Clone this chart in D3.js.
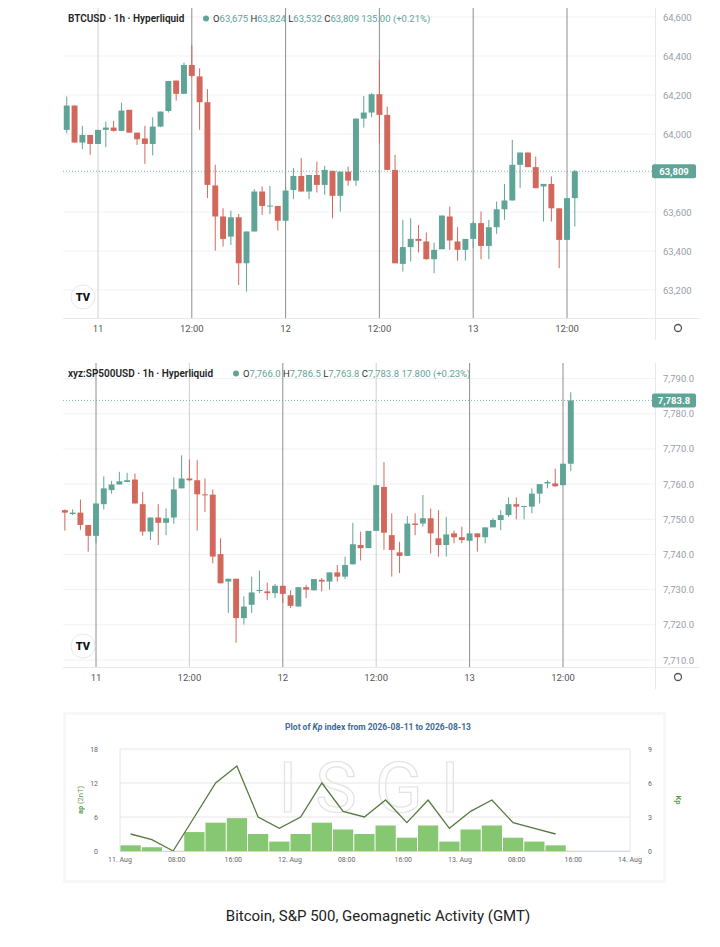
<!DOCTYPE html>
<html><head><meta charset="utf-8">
<script src="https://cdn.jsdelivr.net/npm/d3@7"></script>
<style>body{margin:0;background:#fff;font-family:Roboto,"Noto Sans",sans-serif}svg{display:block}</style>
</head><body><svg id="c" width="720" height="947"></svg>
<script>
// hourly candles [open, high, low, close], first candle = 20:00 on the 10th
var btcCandles = [
[64021,64192,64004,64146],[64146,64146,63956,63956],[63956,64042,63922,63995],[63995,63995,63893,63949],
[63949,64021,63949,64021],[64021,64064,63932,64033],[64033,64067,64012,64016],[64016,64161,64016,64120],
[64124,64124,64007,64007],[64007,64007,63944,63973],[63977,64042,63847,63949],[63949,64086,63890,64038],
[64038,64115,64035,64115],[64118,64272,64110,64272],[64274,64274,64171,64206],[64206,64366,64206,64354],
[64354,64456,64290,64298],[64295,64337,64021,64163],[64163,64230,63671,63739],[63736,63842,63402,63577],
[63577,63619,63423,63462],[63474,63607,63431,63573],[63573,63590,63226,63337],[63337,63500,63192,63500],
[63500,63717,63500,63705],[63705,63731,63585,63631],[63631,63734,63590,63633],[63631,63631,63505,63555],
[63555,63734,63555,63710],[63713,63825,63666,63785],[63785,63876,63705,63705],[63705,63790,63666,63790],
[63790,63859,63700,63739],[63739,63837,63688,63816],[63811,63811,63568,63683],[63683,63807,63602,63807],
[63807,63833,63734,63761],[63761,64079,63734,64079],[64079,64195,64033,64110],[64110,64209,64086,64204],
[64204,64380,63953,64098],[64098,64140,63816,63816],[63816,63893,63337,63337],[63334,63560,63295,63420],
[63420,63568,63346,63462],[63462,63534,63392,63452],[63449,63495,63355,63358],[63358,63443,63286,63406],
[63409,63582,63409,63582],[63577,63628,63406,63454],[63449,63522,63351,63406],[63406,63462,63351,63462],
[63462,63551,63414,63543],[63543,63602,63358,63426],[63426,63560,63358,63522],[63522,63654,63488,63614],
[63614,63744,63560,63659],[63659,63970,63659,63842],[63842,63905,63722,63905],[63905,63905,63830,63830],
[63830,63884,63722,63722],[63731,63744,63551,63744],[63744,63782,63551,63619],[63619,63619,63312,63457],
[63457,63671,63457,63671],[63671,63816,63526,63809]];
var spxCandles = [
[7752.6,7752.8,7746.8,7751.9],[7751.5,7752.8,7751.2,7751.9],[7751.9,7755.6,7747,7748.4],[7748.4,7748.4,7740.8,7745.3],
[7745.3,7754.5,7743.2,7754.5],[7754.3,7762.2,7752.8,7758.8],[7758.3,7760.9,7757.3,7759.9],[7759.9,7763.5,7759.9,7760.8],
[7760.6,7763.2,7760.6,7761.1],[7761.3,7763,7754.5,7754.5],[7754.3,7757.8,7745.3,7746.5],[7746.5,7750.5,7744.1,7750.5],
[7750.5,7754.3,7742.7,7749],[7749,7753.1,7745.5,7750.3],[7750.5,7761.9,7748.7,7758.5],[7758.8,7768.2,7758.8,7761.6],
[7761.6,7767,7760.8,7761.1],[7761.1,7766.8,7746.8,7757.1],[7757.1,7761.6,7752.1,7756.9],[7757,7758.5,7737.5,7739.4],
[7740.1,7744.6,7731.8,7731.8],[7732.3,7733.1,7723.4,7733.1],[7733.1,7733.1,7714.9,7721.9],[7721.9,7728.1,7720.1,7725.2],
[7725.7,7733.7,7723.4,7729.2],[7729.6,7735.4,7729,7729.9],[7729.5,7732,7727,7729],[7729,7731.6,7727.6,7731.1],
[7731.1,7731.1,7726.2,7728.8],[7728.4,7729.8,7724.8,7725.4],[7725.2,7730.7,7725.2,7730.7],[7730.7,7731.4,7727.6,7730],
[7729.8,7733,7729.8,7733],[7732.8,7733.3,7729.5,7732.3],[7732.3,7734.9,7730,7734.9],[7734.9,7737,7732.3,7733.7],
[7733.7,7739.4,7733,7737],[7737.2,7749,7737.2,7742.9],[7742.7,7746.5,7738.3,7741.8],[7741.8,7746.7,7741.8,7746.7],
[7746.7,7759.7,7746.7,7759.7],[7759.2,7766.3,7741.3,7746.2],[7745.5,7751.7,7733.7,7741.3],[7740.6,7743.6,7734.7,7739.6],
[7739.6,7750.9,7739.6,7748.8],[7748.8,7751.7,7745.5,7748.4],[7748.8,7756.9,7747.9,7750.3],[7750.3,7753.1,7740.3,7746],
[7744.6,7752.6,7739.4,7742.7],[7742.7,7750.7,7739.4,7745.7],[7746,7746.8,7743.2,7744.9],[7744.9,7747.9,7743.2,7744.1],
[7743.9,7746.5,7743.4,7746],[7746,7746,7740.8,7744.9],[7744.9,7747.7,7743.2,7747.7],[7747.7,7750.3,7747.7,7749.8],
[7749.8,7752.6,7746.9,7751.2],[7751.2,7756.2,7750.7,7754.3],[7754.3,7756.2,7750,7753.6],[7753.6,7753.8,7750,7753.8],
[7753.6,7758.8,7751.7,7757.3],[7757.3,7760,7754.5,7760],[7760.2,7761.1,7758.8,7760.6],[7760.2,7764.4,7759.2,7759.4],
[7759.7,7765.8,7759.7,7765.8],[7765.8,7786.1,7763.7,7783.8]];
var firstHour = -4;
var timeTicks = [0,12,24,36,48,60];
var timeLabels = ["11","12:00","12","12:00","13","12:00"];
var btcTicks = [63200,63400,63600,63800,64000,64200,64400,64600];
var spxTicks = [7710,7720,7730,7740,7750,7760,7770,7780,7790];
// Kp per 3-hour interval (11-13 Aug), ap line values
var kpValues = [0.5,0.33,0,1.67,2.5,2.9,1.5,0.83,1.5,2.5,1.9,1.5,2.25,1.17,2.25,0.83,1.9,2.25,1.17,0.83,0.5];
var apValues = [3,2,0,6,12,15,6,4,6,12,7,6,9,5,9,4,7,9,5,4,3];
var kpTickLabels = ["11. Aug","08:00","16:00","12. Aug","08:00","16:00","13. Aug","08:00","16:00","14. Aug"];

var svg = d3.select("#c");
var UP = "#5fa497", DOWN = "#d2685c";
var fmt0 = d3.format(",.0f"), fmt1 = d3.format(",.1f");

function panel(cfg){
  var g = svg.append("g");
  var x = d3.scaleLinear().domain([0,60]).range(cfg.xr);
  var y = d3.scaleLinear().domain(cfg.yd).range(cfg.yr);
  var top = cfg.top, bot = cfg.bot, L = 63, R = 655;
  var last = cfg.data[cfg.data.length-1][3];
  g.append("rect").attr("x",L).attr("y",top).attr("width",R-L).attr("height",bot-top).attr("fill","#fff");
  cfg.ticks.forEach(function(t){
    g.append("line").attr("x1",L).attr("x2",R).attr("y1",y(t)).attr("y2",y(t)).attr("stroke","#f0f1f4");
    if(Math.abs(y(t)-y(last))<11) return; // hidden behind the price tag
    g.append("text").attr("x",663).attr("y",y(t)+3.5).attr("font-size",9.5).attr("fill","#9a9ea8").text(cfg.fmt(t));
  });
  timeTicks.forEach(function(t,i){
    g.append("line").attr("x1",x(t)).attr("x2",x(t)).attr("y1",top).attr("y2",bot)
      .attr("stroke",cfg.lineCols[i]).attr("stroke-width",1);
    g.append("text").attr("x",x(t)).attr("y",bot+14).attr("text-anchor","middle").attr("font-size",9.5).attr("fill","#555").text(timeLabels[i]);
  });
  g.append("line").attr("x1",L).attr("x2",700).attr("y1",bot+0.5).attr("y2",bot+0.5).attr("stroke","#e6e8ee");
  g.append("line").attr("x1",R+0.5).attr("x2",R+0.5).attr("y1",top).attr("y2",bot+22).attr("stroke","#e6e8ee");
  var step = x(1)-x(0);
  var cg = g.append("g");
  cfg.data.forEach(function(d,i){
    var cx = x(firstHour+i), up = d[3]>=d[0], col = up?UP:DOWN;
    cg.append("line").attr("x1",cx).attr("x2",cx).attr("y1",y(d[1])).attr("y2",y(d[2])).attr("stroke",col).attr("stroke-width",1);
    var y0 = y(Math.max(d[0],d[3])), y1 = y(Math.min(d[0],d[3]));
    cg.append("rect").attr("x",cx-step*0.38).attr("y",y0).attr("width",step*0.76).attr("height",Math.max(1,y1-y0)).attr("fill",col);
  });
  g.append("line").attr("x1",L).attr("x2",R).attr("y1",y(last)).attr("y2",y(last))
    .attr("stroke",UP).attr("stroke-dasharray","1,2").attr("opacity",0.8);
  g.append("rect").attr("x",R-3).attr("y",y(last)-7).attr("width",44).attr("height",14).attr("rx",2).attr("fill",UP);
  g.append("text").attr("x",R+19).attr("y",y(last)+3.5).attr("text-anchor","middle").attr("font-size",9.5)
    .attr("font-weight","bold").attr("fill","#fff").text(cfg.fmt(last));
  // header
  var h = g.append("text").attr("x",68).attr("y",top+14).attr("font-size",10);
  h.append("tspan").attr("fill","#222").attr("font-weight","600").text(cfg.title);
  g.append("circle").attr("cx",cfg.dotX).attr("cy",top+10.5).attr("r",3).attr("fill",UP);
  var o = g.append("text").attr("x",cfg.dotX+7).attr("y",top+14).attr("font-size",9.5);
  cfg.ohlc.forEach(function(p){
    o.append("tspan").attr("fill","#333").text(p[0]);
    o.append("tspan").attr("fill",UP).text(p[1]+" ");
  });
  o.append("tspan").attr("fill",UP).text(cfg.chg);
  // logo + settings
  g.append("circle").attr("cx",83).attr("cy",bot-21).attr("r",12).attr("fill","#fff").attr("stroke","#e8e8e8");
  g.append("text").attr("x",83).attr("y",bot-17).attr("text-anchor","middle").attr("font-size",11)
    .attr("font-weight","900").attr("fill","#111").text("TV");
  g.append("circle").attr("cx",678).attr("cy",bot+10).attr("r",3.5).attr("fill","none").attr("stroke","#555").attr("stroke-width",1.3);
}

panel({top:8,bot:318,xr:[98,567],yd:[63200,64600],yr:[290,17],data:btcCandles,ticks:btcTicks,fmt:fmt0,
  title:"BTCUSD · 1h · Hyperliquid",dotX:206,
  ohlc:[["O","63,675"],["H","63,824"],["L","63,532"],["C","63,809"]],chg:"135.00 (+0.21%)",
  lineCols:["#d0d0d0","#8e8e8e","#8e8e8e","#8e8e8e","#8e8e8e","#8e8e8e"]});
panel({top:363,bot:667,xr:[96,563],yd:[7710,7790],yr:[660,378.6],data:spxCandles,ticks:spxTicks,fmt:fmt1,
  title:"xyz:SP500USD · 1h · Hyperliquid",dotX:236,
  ohlc:[["O","7,766.0"],["H","7,786.5"],["L","7,763.8"],["C","7,783.8"]],chg:"17.800 (+0.23%)",
  lineCols:["#8e8e8e","#cfcfcf","#8e8e8e","#cfcfcf","#8e8e8e","#8e8e8e"]});

// Kp panel
var kg = svg.append("g");
kg.append("rect").attr("x",63).attr("y",712).attr("width",603).attr("height",171).attr("fill","#f7f7f7");
kg.append("rect").attr("x",66).attr("y",715).attr("width",597).attr("height",165).attr("fill","#fff");
var kx = d3.scaleLinear().domain([0,72]).range([120,630]);
var ap = d3.scaleLinear().domain([0,18]).range([851,749]);
var kp = d3.scaleLinear().domain([0,9]).range([851,749]);
[0,6,12,18].forEach(function(t){
  kg.append("line").attr("x1",120).attr("x2",630).attr("y1",ap(t)).attr("y2",ap(t)).attr("stroke","#e6e6e6");
  kg.append("text").attr("x",98).attr("y",ap(t)+3).attr("text-anchor","end").attr("font-size",7).attr("fill","#666").text(t);
});
[0,3,6,9].forEach(function(t){
  kg.append("text").attr("x",648).attr("y",kp(t)+3).attr("font-size",7).attr("fill","#666").text(t);
});
[0,72].forEach(function(t){
  kg.append("line").attr("x1",kx(t)).attr("x2",kx(t)).attr("y1",749).attr("y2",851).attr("stroke","#e6e6e6");
});
kg.append("text").attr("x",378).attr("y",812).attr("text-anchor","middle").attr("font-size",70)
  .attr("letter-spacing",18).attr("fill","none").attr("stroke","#e2e2e2").attr("stroke-width",1.2).text("ISGI");
kpValues.forEach(function(v,i){
  if(v<=0) return;
  kg.append("rect").attr("x",kx(i*3)+0.5).attr("y",kp(v)).attr("width",kx(3)-kx(0)-1).attr("height",kp(0)-kp(v)).attr("fill","#86c772");
});
kg.append("path").datum(apValues).attr("fill","none").attr("stroke","#54793f").attr("stroke-width",1.3)
  .attr("d",d3.line().x(function(d,i){return kx(i*3+1.5);}).y(function(d){return ap(d);}));
kg.append("line").attr("x1",120).attr("x2",630).attr("y1",851.5).attr("y2",851.5).attr("stroke","#ccd6eb");
kpTickLabels.forEach(function(s,i){
  kg.append("text").attr("x",kx(i*8)).attr("y",862).attr("text-anchor","middle").attr("font-size",7).attr("fill","#666").text(s);
});
var kt = kg.append("text").attr("x",378).attr("y",730).attr("text-anchor","middle").attr("font-size",8.5)
  .attr("font-weight","bold").attr("fill","#3d6a96");
kt.append("tspan").text("Plot of ");
kt.append("tspan").attr("font-style","italic").text("Kp");
kt.append("tspan").text(" index from 2026-08-11 to 2026-08-13");
kg.append("text").attr("transform","translate(83,800) rotate(-90)").attr("text-anchor","middle").attr("font-size",7.5)
  .attr("fill","#5a9a4a").html("<tspan font-weight='bold'>ap</tspan> (2nT)");
kg.append("text").attr("transform","translate(676,800) rotate(90)").attr("text-anchor","middle").attr("font-size",7.5)
  .attr("fill","#5a9a4a").attr("font-weight","bold").text("Kp");

svg.append("text").attr("x",378).attr("y",921).attr("text-anchor","middle").attr("font-size",15)
  .attr("fill","#222").text("Bitcoin, S&P 500, Geomagnetic Activity (GMT)");
</script></body></html>
